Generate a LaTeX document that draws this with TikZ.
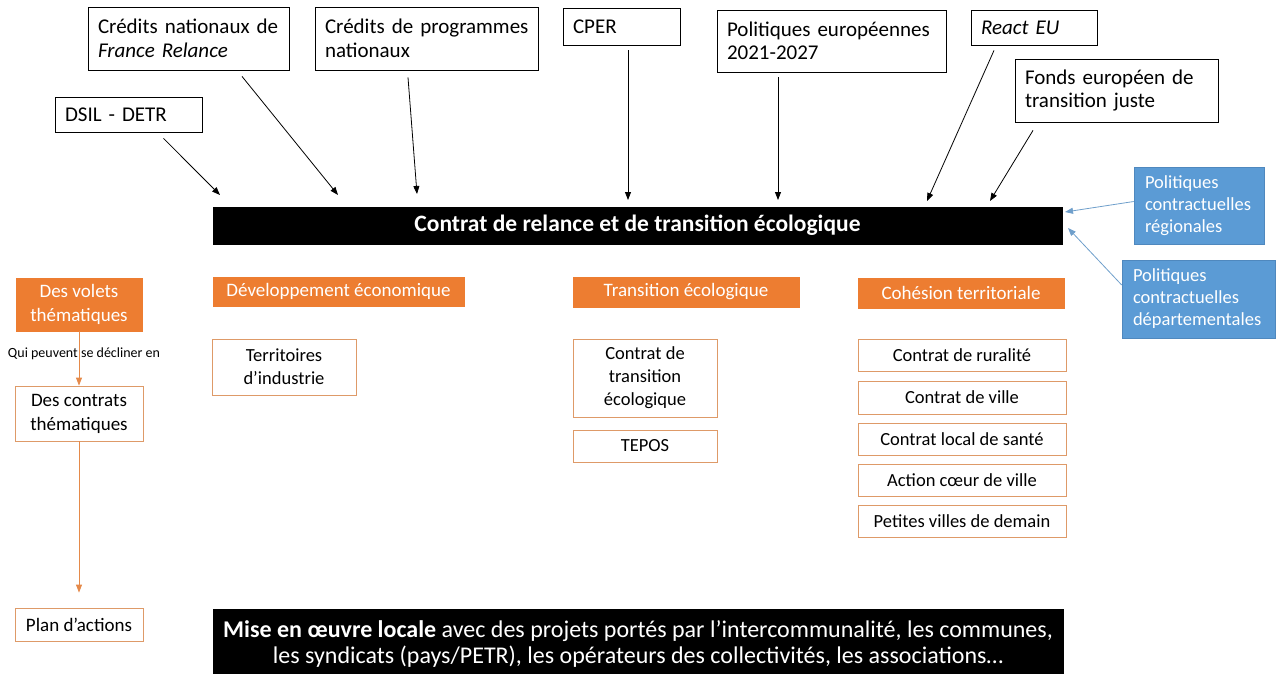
\documentclass[tikz,border=0pt]{standalone}
\usepackage{fontspec}
\setmainfont{Carlito}
\usetikzlibrary{arrows.meta}
\definecolor{orng}{HTML}{ED7D31}
\definecolor{obord}{HTML}{DE9A68}
\definecolor{blu}{HTML}{5B9BD5}
\definecolor{bluborder}{HTML}{4F88BE}
\definecolor{bluarrow}{HTML}{6F9FCB}
\definecolor{orarrow}{HTML}{E58A4A}
\begin{document}
\begin{tikzpicture}[x=1pt,y=-1pt,
  box at/.style args={#1,#2,#3,#4}{at={({(#1+#3)/2},{(#2+#4)/2})},minimum width={(#3-#1)*1pt},minimum height={(#4-#2)*1pt}},
  src/.style={draw=black,line width=0.8pt,inner xsep=10pt,inner ysep=0pt,align=left,font=\fontsize{21}{23.5}\selectfont,execute at begin node={\hyphenpenalty=10000\relax}},
  hdr/.style={fill=orng,draw=orng,text=white,inner sep=0pt,align=center,font=\fontsize{19}{24}\selectfont},
  obox/.style={draw=obord,line width=0.8pt,inner sep=0pt,align=center,font=\fontsize{18.5}{23}\selectfont},
  bbox/.style={fill=blu,draw=bluborder,line width=0.6pt,text=white,align=left,inner xsep=11pt,inner ysep=0pt,font=\fontsize{18.5}{22}\selectfont},
  blk/.style={fill=black,draw=black,text=white,inner sep=0pt,align=center},
  arr/.style={-{Triangle[length=8pt,width=6pt]},line width=0.8pt,black},
  barr/.style={-{Triangle[length=8pt,width=6pt]},line width=0.8pt,bluarrow},
  oarr/.style={-{Triangle[length=8pt,width=6pt]},line width=0.9pt,orarrow}]
\useasboundingbox (0,0) rectangle (1276,673);

% source boxes
\node[src,box at={55,97,202,132},text width=127pt] (dsil) {DSIL - DETR};
\node[src,box at={88,7,289,70},text width=181pt] (cnat) {Crédits~nationaux~de\\\textit{France~Relance}};
\node[src,box at={315,7,538,70},text width=203pt] (cprog) {\mbox{Crédits de programmes}\\nationaux};
\node[src,box at={563,8,680,45},text width=97pt] (cper) {CPER};
\node[src,box at={717,10,946,72},text width=209pt] (peur) {Politiques~européennes\\2021-2027};
\node[src,box at={971,10,1097,45},text width=106pt] (react) {\textit{React EU}};
\node[src,box at={1015,59,1218,122},text width=183pt] (fonds) {Fonds~européen~de\\transition~juste};

% main bar
\node[blk,box at={213,207,1062,244},font=\bfseries\fontsize{23.5}{27}\selectfont] (crte) {Contrat de relance et de transition écologique};

% blue boxes
\node[bbox,box at={1134,167,1264,244},text width=108pt] (reg) {Politiques\\contractuelles\\régionales};
\node[bbox,box at={1122,260,1275,338},text width=131pt] (dep) {Politiques\\contractuelles\\départementales};

% arrow ends on the bar
\coordinate (e1) at (220,195);
\coordinate (e2) at (338,195);
\coordinate (e3) at (417,194);
\coordinate (e4) at (628,200);
\coordinate (e5) at (778,200);
\coordinate (e6) at (927,201);
\coordinate (e7) at (990,201);
\coordinate (e8) at (1065,212);
\coordinate (e9) at (1068,228);

\draw[arr] ([xshift=35pt,yshift=-6pt]dsil.south) -- (e1);
\draw[arr] ([xshift=53.5pt,yshift=-6pt]cnat.south) -- (e2);
\draw[arr] ([xshift=-18.5pt,yshift=-7pt]cprog.south) -- (e3);
\draw[arr] ([xshift=6.5pt,yshift=-5pt]cper.south) -- (e4);
\draw[arr] ([xshift=-53.5pt,yshift=-5pt]peur.south) -- (e5);
\draw[arr] ([xshift=-40pt,yshift=-5pt]react.south) -- (e6);
\draw[arr] ([xshift=-83.5pt,yshift=-8pt]fonds.south) -- (e7);
\draw[barr] ([yshift=4pt]reg.west) -- (e8);
\draw[barr] ([yshift=14pt]dep.west) -- (e9);

% left column
\node[hdr,box at={16,278,142,331},font=\fontsize{19}{24}\selectfont] (volets) {Des volets\\thématiques};
\node[obox,box at={15,386,143,441},font=\fontsize{19}{24}\selectfont] (contrats) {Des contrats\\thématiques};
\node[obox,box at={15,608,143,641},font=\fontsize{19}{24}\selectfont] (plan) {Plan d’actions};
\draw[oarr] (volets.south) -- (contrats.north);
\draw[oarr,shorten >=15pt] (contrats.south) -- (plan.north);
\node[inner sep=0pt,font=\fontsize{14}{16}\selectfont] (qui) at (84,354) {Qui peuvent se décliner en};

% thematic columns
\node[hdr,box at={213,277,464,306}] (dev) {Développement économique};
\node[obox,box at={212,339,356,395}] (terr) {Territoires\\d’industrie};

\node[hdr,box at={573,277,799,307}] (trans) {Transition écologique};
\node[obox,box at={573,339,717,417}] (cte) {Contrat de\\transition\\écologique};
\node[obox,box at={573,430,717,462}] (tepos) {TEPOS};

\node[hdr,box at={858,278,1064,308}] (coh) {Cohésion territoriale};
\node[obox,box at={858,339,1066,371}] (rur) {Contrat de ruralité};
\node[obox,box at={858,381,1066,414}] (ville) {Contrat de ville};
\node[obox,box at={858,423,1066,455}] (sante) {Contrat local de santé};
\node[obox,box at={858,464,1066,496}] (coeur) {Action cœur de ville};
\node[obox,box at={858,505,1066,537}] (pvd) {Petites villes de demain};

% bottom bar
\node[blk,box at={213,609,1063,678},font=\fontsize{24}{26}\selectfont] (mise) {\textbf{Mise en œuvre locale} avec des projets portés par l’intercommunalité, les communes,\\les syndicats (pays/PETR), les opérateurs des collectivités, les associations…};
\end{tikzpicture}
\end{document}
